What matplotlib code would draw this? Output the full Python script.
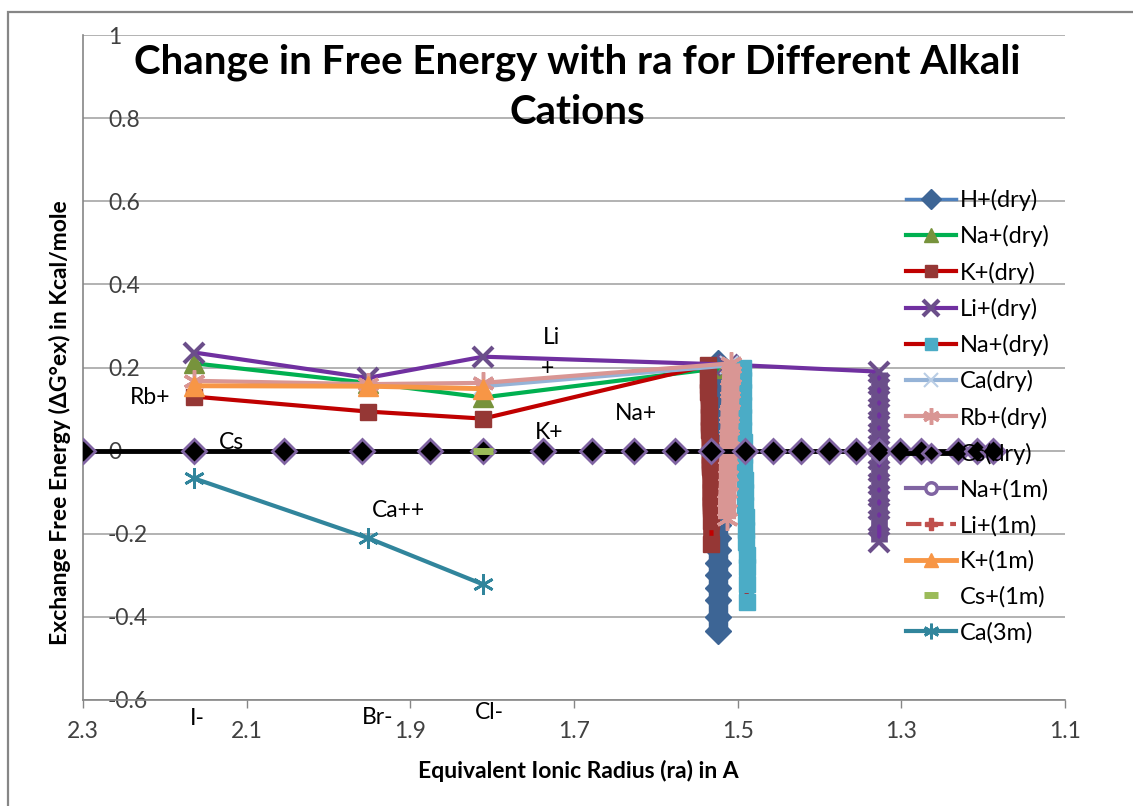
import matplotlib
matplotlib.use("Agg")
import matplotlib.pyplot as plt
from matplotlib.patches import Rectangle

plt.rcParams['font.family'] = ['Lato', 'DejaVu Sans']

# Li+(dry): three anion points, then the run down at 1.33 A
li_dry_x = [2.164, 1.952, 1.811, 1.512, 1.327, 1.327, 1.327, 1.327, 1.327, 1.327, 1.327,
            1.327, 1.327, 1.327, 1.327, 1.327, 1.327, 1.327]
li_dry_y = [0.236, 0.175, 0.226, 0.207, 0.190, 0.16, 0.13, 0.10, 0.07, 0.04, 0.01,
            -0.02, -0.05, -0.08, -0.11, -0.14, -0.17, -0.22]

na_dry_x = [2.164, 1.952, 1.811, 1.515]
na_dry_y = [0.210, 0.163, 0.128, 0.200]

k_dry_x = [2.164, 1.952, 1.811, 1.536, 1.536, 1.536, 1.535, 1.535, 1.535, 1.534, 1.534,
           1.534, 1.533, 1.533, 1.533, 1.532, 1.532]
k_dry_y = [0.130, 0.094, 0.077, 0.205, 0.17, 0.14, 0.11, 0.08, 0.05, 0.02, -0.01,
           -0.04, -0.07, -0.10, -0.13, -0.17, -0.225]

h_dry_x = [1.524, 1.524, 1.524, 1.524, 1.524, 1.524, 1.524, 1.524, 1.524, 1.524, 1.524,
           1.524, 1.524, 1.524, 1.524, 1.524, 1.524, 1.524, 1.524, 1.524, 1.524, 1.524]
h_dry_y = [0.21, 0.18, 0.15, 0.12, 0.09, 0.06, 0.03, 0.0, -0.03, -0.06, -0.09,
           -0.12, -0.15, -0.18, -0.21, -0.24, -0.27, -0.30, -0.33, -0.36, -0.40, -0.435]

na2_dry_x = [1.494, 1.494, 1.494, 1.493, 1.493, 1.493, 1.492, 1.492, 1.492, 1.491, 1.491,
             1.491, 1.490, 1.490, 1.490, 1.489, 1.489, 1.489, 1.489]
na2_dry_y = [0.20, 0.17, 0.14, 0.11, 0.08, 0.05, 0.02, -0.01, -0.04, -0.07, -0.10,
             -0.13, -0.16, -0.19, -0.22, -0.25, -0.28, -0.32, -0.365]

ca_dry_x = [1.811, 1.510]
ca_dry_y = [0.155, 0.205]

rb_dry_x = [2.164, 1.952, 1.811, 1.508, 1.508, 1.509, 1.509, 1.510, 1.510, 1.511,
            1.511, 1.512, 1.512, 1.513, 1.513]
rb_dry_y = [0.168, 0.160, 0.163, 0.210, 0.18, 0.15, 0.12, 0.09, 0.06, 0.03,
            0.0, -0.04, -0.08, -0.12, -0.165]

cs_dry_x = [2.300, 2.164, 2.054, 1.959, 1.876, 1.811, 1.738, 1.678, 1.627, 1.577, 1.533,
            1.491, 1.457, 1.423, 1.389, 1.356, 1.327, 1.302, 1.276, 1.231, 1.207, 1.188]
cs_dry_y = [0.0] * len(cs_dry_x)

k_1m_x = [2.164, 1.952, 1.811]
k_1m_y = [0.156, 0.155, 0.149]

cs_1m_x = [1.811]
cs_1m_y = [0.0]

ca_3m_x = [2.164, 1.952, 1.811]
ca_3m_y = [-0.067, -0.210, -0.322]

notes = [("Rb+", 2.218, 0.127), ("Cs", 2.118, 0.019), ("Ca++", 1.915, -0.144),
         ("Li", 1.728, 0.272), ("+", 1.732, 0.197), ("K+", 1.731, 0.043),
         ("Na+", 1.624, 0.089)]
anion_labels = [("I-", 2.160, -0.644), ("Br-", 1.940, -0.642), ("Cl-", 1.804, -0.630)]

title_lines = ['Change in Free Energy with ra for Different Alkali', 'Cations']

fig = plt.figure(figsize=(11.33, 8.06), dpi=100)
ax = fig.add_axes([83 / 1133, 1 - 700 / 806, 982 / 1133, 665 / 806])

# outer chart frame
fig.patches.append(Rectangle((8 / 1133, -0.05), 1.2, 1 - 12 / 806 + 0.05,
                             transform=fig.transFigure, fill=False,
                             edgecolor='#868686', lw=1.6))


def column(xs, ys, start, color, width, z):
    # stacked markers on one radius read as a solid bar
    ax.plot(xs[start:], ys[start:], color=color, lw=width,
            solid_capstyle='butt', zorder=z)


column(h_dry_x, h_dry_y, 0, '#3D6595', 14, 2)
ax.plot(h_dry_x, h_dry_y, color='#4F81BD', lw=2.5, marker='D', ms=13,
        mfc='#3D6595', mec='#3D6595', label='H+(dry)', zorder=2)
ax.plot(na_dry_x, na_dry_y, color='#00B050', lw=3, marker='^', ms=14,
        mfc='#77933C', mec='#77933C', label='Na+(dry)', zorder=3)
column(k_dry_x, k_dry_y, 3, '#953735', 12, 3)
ax.plot(k_dry_x, k_dry_y, color='#C00000', lw=3, marker='s', ms=12,
        mfc='#953735', mec='#953735', label='K+(dry)', zorder=3)
column(li_dry_x, li_dry_y, 4, '#6B4E8A', 12, 3)
ax.plot(li_dry_x, li_dry_y, color='#7030A0', lw=3, marker='x', ms=15, mew=3,
        mec='#6B4E8A', label='Li+(dry)', zorder=3)
column(na2_dry_x, na2_dry_y, 0, '#4BACC6', 11, 3)
ax.plot(na2_dry_x, na2_dry_y, color='#C00000', lw=3, marker='s', ms=11,
        mfc='#4BACC6', mec='#4BACC6', label='Na+(dry)', zorder=3)
ax.plot(ca_dry_x, ca_dry_y, color='#95B3D7', lw=3, marker='x', ms=13, mew=1.5,
        mec='#B9CDE5', label='Ca(dry)', zorder=3)
column(rb_dry_x, rb_dry_y, 3, '#D99694', 13, 4)
ax.plot(rb_dry_x, rb_dry_y, color='#D99694', lw=3, marker=(6, 2, 0), ms=16, mew=2.5,
        mec='#D99694', label='Rb+(dry)', zorder=4)
ax.plot(cs_dry_x, cs_dry_y, color='black', lw=3.5, marker='D', ms=12, mfc='black',
        mec='#8064A2', mew=2, label='Cs(dry)', zorder=5)
ax.plot([], [], color='#8064A2', lw=3, marker='o', ms=11, mfc='white', mec='#8064A2',
        mew=2.5, label='Na+(1m)')
ax.plot([], [], color='#C0504D', lw=3, ls='--', marker='P', ms=11, mfc='#C0504D',
        mec='#C0504D', label='Li+(1m)')
ax.plot(k_1m_x, k_1m_y, color='#F79646', lw=3.5, marker='^', ms=14,
        mfc='#F79646', mec='#F79646', label='K+(1m)', zorder=4)
ax.plot(cs_1m_x, cs_1m_y, ls='none', marker='_', ms=14, mew=5, mec='#9BBB59',
        label='Cs+(1m)', zorder=6)
ax.plot(ca_3m_x, ca_3m_y, color='#31859C', lw=3, marker=(6, 2, 0), ms=15, mew=2,
        mec='#31859C', label='Ca(3m)', zorder=3)

for txt, x, y in notes:
    ax.text(x, y, txt, fontsize=16.5, ha='center', va='center', zorder=7)
for txt, x, y in anion_labels:
    ax.text(x, y, txt, fontsize=16.5, ha='center', va='center', clip_on=False)

ax.set_xlim(2.3, 1.1)
ax.set_ylim(-0.6, 1.0)
ax.set_xticks([2.3, 2.1, 1.9, 1.7, 1.5, 1.3, 1.1])
ax.set_xticklabels(['2.3', '2.1', '1.9', '1.7', '1.5', '1.3', '1.1'])
ax.set_yticks([-0.6, -0.4, -0.2, 0, 0.2, 0.4, 0.6, 0.8, 1])
ax.set_yticklabels(['-0.6', '-0.4', '-0.2', '0', '0.2', '0.4', '0.6', '0.8', '1'],
                   ha='left')
ax.tick_params(axis='y', length=0, pad=-18, labelsize=16.5, colors='#404040')
ax.tick_params(axis='x', length=6, width=1, color='#868686', pad=9, labelsize=16.5,
               labelcolor='#404040')
ax.grid(axis='y', color='#A6A6A6', lw=1.2)
ax.set_axisbelow(True)
for side in ('top', 'right'):
    ax.spines[side].set_visible(False)
for side in ('left', 'bottom'):
    ax.spines[side].set_color('#868686')
    ax.spines[side].set_linewidth(1.2)
ax.set_facecolor('none')

# two-line title, one text per line
for line, ypx in zip(title_lines, [62, 112]):
    fig.text(577 / 1133, 1 - ypx / 806, line, ha='center', va='center',
             fontsize=29, fontweight='bold')
fig.text(578 / 1133, 1 - 771 / 806, 'Equivalent Ionic Radius (ra) in A',
         ha='center', va='center', fontsize=16.5, fontweight='bold')
fig.text(60 / 1133, 1 - 423 / 806, 'Exchange Free Energy (ΔG°ex) in Kcal/mole',
         ha='center', va='center', rotation=90, fontsize=16.5, fontweight='bold')

ax.legend(loc='upper left', bbox_to_anchor=(906 / 1133, 1 - 189 / 806),
          bbox_transform=fig.transFigure, frameon=False, fontsize=17,
          handlelength=2.1, labelspacing=0.6, handletextpad=0.2, borderaxespad=0,
          borderpad=0, markerscale=0.75)

fig.savefig('out.png', dpi=100)
